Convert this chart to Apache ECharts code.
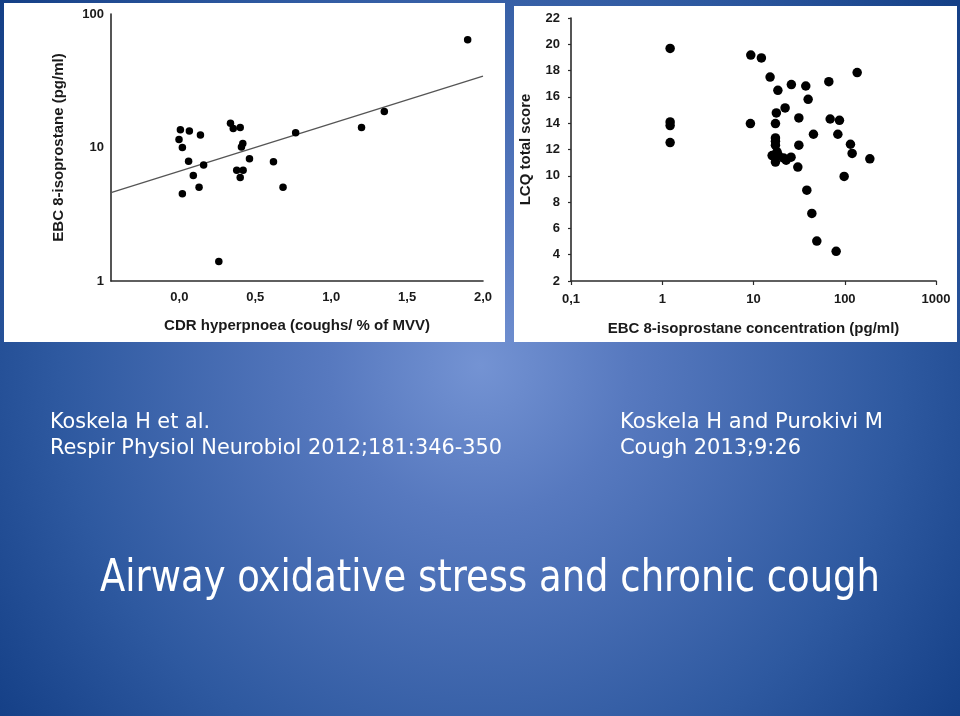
<!DOCTYPE html>
<html>
<head>
<meta charset="utf-8">
<script src="https://cdn.jsdelivr.net/npm/echarts@6/dist/echarts.min.js"></script>
<style>
html,body{margin:0;padding:0;background:#1f4b92;}
#main{width:960px;height:716px;}
</style>
</head>
<body>
<div id="main"></div>
<script>
// ---- Data (left: CDR hyperpnoea vs EBC 8-isoprostane) ----
const leftX = [0.007,0.066,0.139,-0.002,0.020,0.061,0.160,0.092,0.130,0.020,0.337,0.355,0.401,0.418,0.409,0.462,0.378,0.420,0.401,0.620,0.683,0.766,0.260,1.200,1.350,1.899];
const leftY = [13.6,13.3,12.4,11.5,10.0,7.89,7.41,6.16,5.03,4.51,15.2,13.9,14.1,10.7,10.1,8.22,6.75,6.75,5.95,7.81,5.03,12.9,1.40,14.1,18.6,64.1];
const fitX = [-0.45, 2.0];
const fitY = [4.59, 34.2];
const leftXTicks = [0, 0.5, 1.0, 1.5, 2.0];
const leftYTicks = [1, 10, 100];

// ---- Data (right: EBC 8-isoprostane vs LCQ total score) ----
const rightX = [1.22,1.22,1.22,1.22,9.34,12.2,15.2,18.5,26.0,37.4,39.7,66.9,136.8,22.2,17.8,31.4,9.25,17.4,69.2,87.5,45.4,84.0,17.4,17.4,17.4,31.4,115.5,120.5,188.4,16.0,18.7,21.3,25.8,17.4,22.8,30.6,98.5,38.4,43.6,49.4,80.5,18.1];
const rightY = [19.69,14.10,13.82,12.53,19.18,18.96,17.51,16.50,16.94,16.83,15.82,17.16,17.85,15.16,14.78,14.40,13.97,13.97,14.32,14.22,13.16,13.16,12.88,12.63,12.33,12.33,12.40,11.70,11.29,11.54,11.57,11.36,11.42,11.04,11.19,10.66,9.95,8.91,7.14,5.04,4.26,11.82];
const rightXTicks = [0.1, 1, 10, 100, 1000];
const rightYTicks = [2,4,6,8,10,12,14,16,18,20,22];

// ---- Texts ----
const leftTitle = 'EBC 8-isoprostane (pg/ml)';
const leftXName = 'CDR hyperpnoea (coughs/ % of MVV)';
const rightYName = 'LCQ total score';
const rightXName = 'EBC 8-isoprostane concentration (pg/ml)';
const cite1 = ['Koskela H et al.', 'Respir Physiol Neurobiol 2012;181:346-350'];
const cite2 = ['Koskela H and Purokivi M', 'Cough 2013;9:26'];
const slideTitle = 'Airway oxidative stress and chronic cough';

const decimalComma = v => String(+v.toFixed(2)).replace('.', ',');

const SLIDE_FONT = "'DejaVu Sans Condensed', 'DejaVu Sans', sans-serif";
const AX_FONT = "'Liberation Sans', Arial, sans-serif";

const mctx = document.createElement('canvas').getContext('2d');
function fitScale(str, size, target) {
  mctx.font = size + 'px ' + SLIDE_FONT;
  const w = mctx.measureText(str).width;
  return target / w;
}
function slideText(str, x, y, size, targetW, align) {
  return {
    type: 'text', x: x, y: y, z: 20,
    scaleX: fitScale(str, size, targetW),
    style: {
      text: str, x: 0, y: 0, fill: '#ffffff',
      font: size + 'px ' + SLIDE_FONT,
      textAlign: align || 'left', textVerticalAlign: 'middle'
    }
  };
}

const chart = echarts.init(document.getElementById('main'));

const axisLineStyle = { color: '#2b2b2b', width: 1.6 };
const labelStyle = { color: '#1a1a1a', fontWeight: 'bold', fontSize: 13, fontFamily: AX_FONT };
const nameStyle = { color: '#1a1a1a', fontWeight: 'bold', fontSize: 15, fontFamily: AX_FONT };

const option = {
  backgroundColor: 'transparent',
  animation: false,
  graphic: [
    { type: 'rect', z: -30, shape: { x: 0, y: 0, width: 960, height: 716 },
      style: { fill: { type: 'radial', x: 0.5, y: 0.51, r: 0.84, global: false,
        colorStops: [
          { offset: 0, color: '#7493d3' },
          { offset: 0.25, color: '#5779bf' },
          { offset: 0.7, color: '#2e59a0' },
          { offset: 1, color: '#143f86' }
        ] } } },
    { type: 'rect', z: -20, shape: { x: 4, y: 3, width: 501, height: 339 }, style: { fill: '#ffffff' } },
    { type: 'rect', z: -20, shape: { x: 514, y: 6, width: 443, height: 336 }, style: { fill: '#ffffff' } },
    slideText(cite1[0], 50, 422, 22, 160, 'left'),
    slideText(cite1[1], 50, 448, 22, 452, 'left'),
    slideText(cite2[0], 620, 422, 22, 263, 'left'),
    slideText(cite2[1], 620, 448, 22, 181, 'left'),
    slideText(slideTitle, 490, 580, 44, 780, 'center')
  ],
  grid: [
    { left: 111, top: 14, width: 372, height: 267 },
    { left: 571, top: 18, width: 365, height: 263 }
  ],
  xAxis: [
    { gridIndex: 0, type: 'value', min: -0.45, max: 2.0,
      name: leftXName, nameLocation: 'middle', nameGap: 37, nameTextStyle: nameStyle,
      axisLine: { show: true, onZero: false, lineStyle: axisLineStyle },
      axisTick: { show: false },
      splitLine: { show: false },
      axisLabel: Object.assign({ customValues: leftXTicks, margin: 10,
        formatter: v => v.toFixed(1).replace('.', ',') }, labelStyle) },
    { gridIndex: 1, type: 'log', logBase: 10, min: 0.1, max: 1000,
      name: rightXName, nameLocation: 'middle', nameGap: 40, nameTextStyle: nameStyle,
      axisLine: { show: true, onZero: false, lineStyle: axisLineStyle },
      axisTick: { show: true, length: 4, inside: false, lineStyle: { color: '#2b2b2b', width: 1.2 } },
      minorTick: { show: false },
      splitLine: { show: false },
      axisLabel: Object.assign({ margin: 12, formatter: decimalComma }, labelStyle) }
  ],
  yAxis: [
    { gridIndex: 0, type: 'log', logBase: 10, min: 1, max: 100,
      name: leftTitle, nameLocation: 'middle', nameGap: 45, nameTextStyle: nameStyle,
      axisLine: { show: true, onZero: false, lineStyle: axisLineStyle },
      axisTick: { show: false },
      splitLine: { show: false },
      axisLabel: Object.assign({ margin: 7, customValues: leftYTicks, formatter: v => String(v) }, labelStyle) },
    { gridIndex: 1, type: 'value', min: 2, max: 22, interval: 2,
      name: rightYName, nameLocation: 'middle', nameGap: 38, nameTextStyle: nameStyle,
      axisLine: { show: true, onZero: false, lineStyle: axisLineStyle },
      axisTick: { show: true, length: 3, lineStyle: { color: '#2b2b2b', width: 1.2 } },
      splitLine: { show: false },
      axisLabel: Object.assign({ margin: 11 }, labelStyle) }
  ],
  series: [
    { type: 'line', xAxisIndex: 0, yAxisIndex: 0, data: fitX.map((x, i) => [x, fitY[i]]),
      showSymbol: false, symbol: 'none', lineStyle: { color: '#555555', width: 1.3 }, z: 3, silent: true },
    { type: 'scatter', xAxisIndex: 0, yAxisIndex: 0, data: leftX.map((x, i) => [x, leftY[i]]),
      symbolSize: 7.5, itemStyle: { color: '#000000', opacity: 1 }, z: 4 },
    { type: 'scatter', xAxisIndex: 1, yAxisIndex: 1, data: rightX.map((x, i) => [x, rightY[i]]),
      symbolSize: 9.5, itemStyle: { color: '#000000', opacity: 1 }, z: 4 }
  ]
};
chart.setOption(option);
</script>
</body>
</html>
